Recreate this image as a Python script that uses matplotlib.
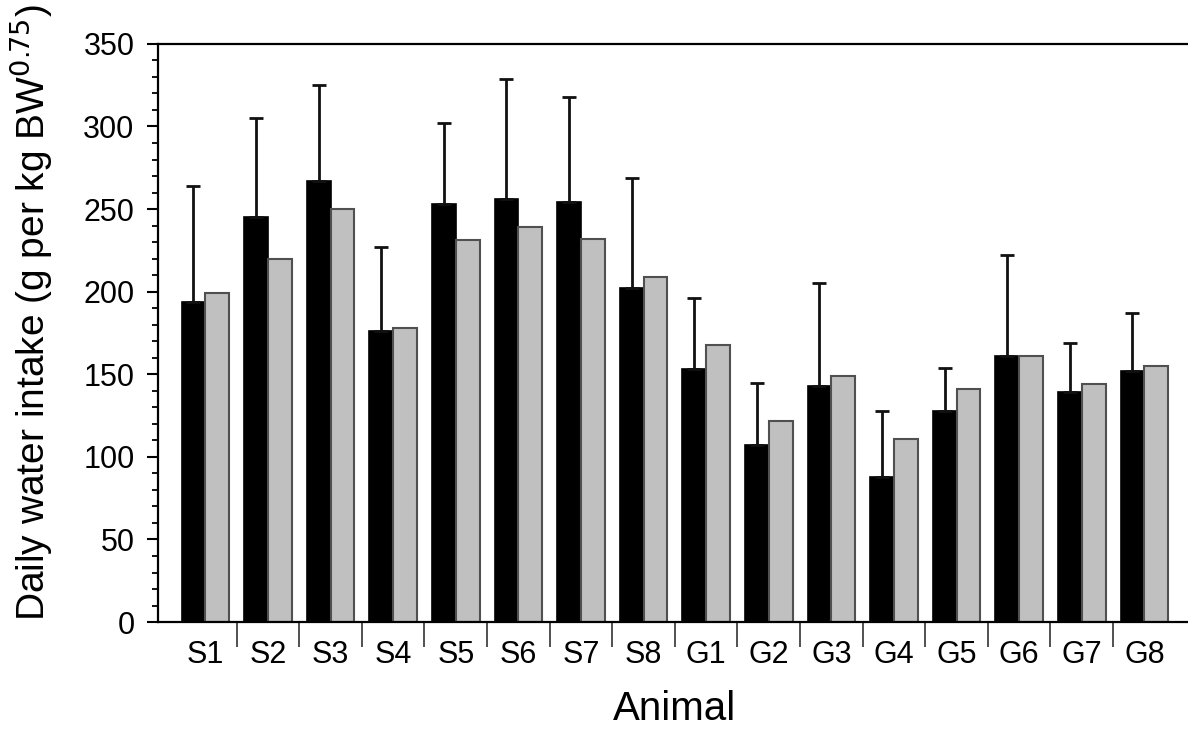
import numpy as np
import matplotlib.pyplot as plt
from matplotlib.ticker import MultipleLocator, FixedLocator, NullFormatter

plt.rcParams['font.family'] = ['Liberation Sans', 'DejaVu Sans']

animals = ['S1', 'S2', 'S3', 'S4', 'S5', 'S6', 'S7', 'S8',
           'G1', 'G2', 'G3', 'G4', 'G5', 'G6', 'G7', 'G8']
black_vals = [194, 245, 267, 176, 253, 256, 254, 202,
              153, 107, 143, 88, 128, 161, 139, 152]
black_err = [70, 60, 58, 51, 49, 73, 64, 67,
             43, 38, 62, 40, 26, 61, 30, 35]
grey_vals = [199, 220, 250, 178, 231, 239, 232, 209,
             168, 122, 149, 111, 141, 161, 144, 155]

x = np.arange(len(animals))
w = 0.38

fig = plt.figure(figsize=(11.88, 7.31), dpi=100)
ax = fig.add_axes([0.133, 0.149, 0.867, 0.791])

ax.bar(x - w/2, black_vals, w, color='black', edgecolor='black', linewidth=1.2,
       yerr=[np.zeros(len(black_err)), black_err],
       error_kw=dict(ecolor='#111111', elinewidth=2, capsize=4.7, capthick=2))
ax.bar(x + w/2, grey_vals, w, color='#c0c0c0', edgecolor='#505050', linewidth=1.5)

ax.set_xlim(-0.756, 15.697)
ax.set_ylim(0, 350)

ax.spines['right'].set_visible(False)
for s in ['left', 'bottom', 'top']:
    ax.spines[s].set_linewidth(1.6)

ax.yaxis.set_major_locator(MultipleLocator(50))
ax.yaxis.set_minor_locator(MultipleLocator(10))
ax.tick_params(axis='y', which='major', direction='out', length=8, width=1.5,
               labelsize=22, pad=9)
ax.tick_params(axis='y', which='minor', direction='out', length=4, width=1.3)

# group separators as ticks, labels at group centres
ax.xaxis.set_major_locator(FixedLocator(x[:-1] + 0.5))
ax.xaxis.set_major_formatter(NullFormatter())
ax.xaxis.set_minor_locator(FixedLocator(x))
ax.set_xticklabels(animals, minor=True)
ax.tick_params(axis='x', which='major', direction='out', length=18, width=1.2,
               color='#333333')
ax.tick_params(axis='x', which='minor', length=0, labelsize=22, pad=13)

ax.set_xlabel('Animal', fontsize=29)
ax.xaxis.set_label_coords(0.5017, -0.118)
ax.set_ylabel('Daily water intake (g per kg BW$^{0.75}$)', fontsize=28)
ax.yaxis.set_label_coords(-0.1, 0.535)

fig.savefig('out.png', dpi=100)
